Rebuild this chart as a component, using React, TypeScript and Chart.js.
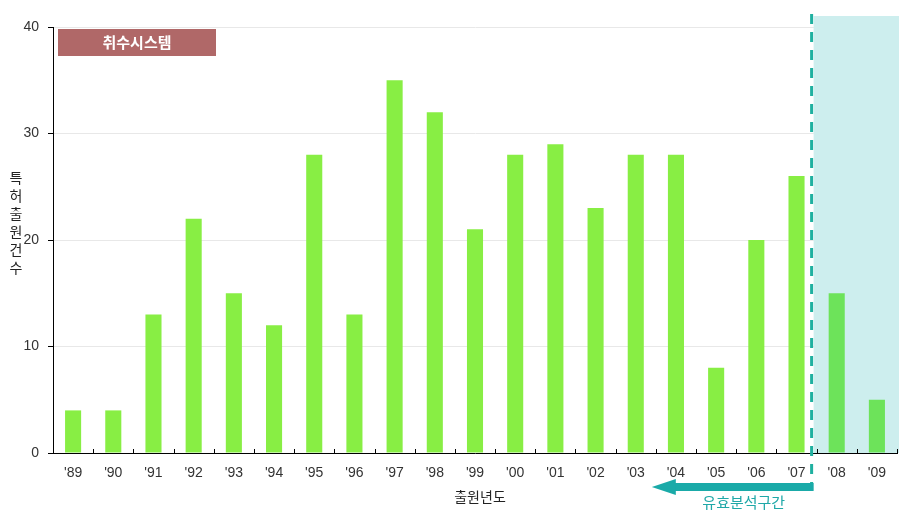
import { useEffect, useRef } from 'react';
import { Chart, registerables } from 'chart.js';
Chart.register(...registerables);

const categories = ["'89", "'90", "'91", "'92", "'93", "'94", "'95", "'96", "'97", "'98", "'99", "'00", "'01", "'02", "'03", "'04", "'05", "'06", "'07", "'08", "'09"];
const counts = [4, 4, 13, 22, 15, 12, 28, 13, 35, 32, 21, 28, 29, 23, 28, 28, 8, 20, 26, 15, 5];
const yTicks = [0, 10, 20, 30, 40];
const seriesTitle = '취수시스템';
const yTitle = '특허출원건수';
const xTitle = '출원년도';
const rangeLabel = '유효분석구간';
const firstShadedIndex = 19; // '08 onward: outside the valid analysis range
const arrowStartIndex = 15; // arrow reaches back to '04

const KFONT = '"Noto Sans CJK KR", "Noto Sans", sans-serif';
const NFONT = '"Liberation Sans", "DejaVu Sans", sans-serif';

const overlayPlugin = {
  id: 'overlay',
  beforeDatasetsDraw(chart: any) {
    const { ctx, chartArea, scales } = chart;
    const xs = scales.x;
    const step = xs.getPixelForValue(1) - xs.getPixelForValue(0);
    const bx = xs.getPixelForValue(firstShadedIndex) - step / 2 - 5;
    ctx.save();
    ctx.fillStyle = '#cdeeee';
    ctx.fillRect(bx + 2, chartArea.top - 11, chart.width - bx - 2, chartArea.bottom - chartArea.top + 11);
    ctx.restore();
  },
  afterDatasetsDraw(chart: any) {
    const { ctx, chartArea, scales } = chart;
    const xs = scales.x;
    const step = xs.getPixelForValue(1) - xs.getPixelForValue(0);
    const bx = xs.getPixelForValue(firstShadedIndex) - step / 2 - 5;
    ctx.save();
    // x ticks pointing up at category boundaries
    ctx.strokeStyle = '#000';
    ctx.lineWidth = 1;
    for (let i = 1; i <= categories.length; i++) {
      const x = Math.round(xs.getPixelForValue(i) - step / 2) + 0.5;
      ctx.beginPath();
      ctx.moveTo(x, chartArea.bottom);
      ctx.lineTo(x, chartArea.bottom - 4);
      ctx.stroke();
    }
    // dashed divider
    ctx.strokeStyle = '#1fb0a0';
    ctx.lineWidth = 3;
    ctx.setLineDash([10, 8]);
    ctx.beginPath();
    ctx.moveTo(bx, chartArea.top - 13);
    ctx.lineTo(bx, chartArea.bottom + 37);
    ctx.stroke();
    ctx.setLineDash([]);
    // arrow
    const tip = xs.getPixelForValue(arrowStartIndex) - step * 0.6;
    const ay = chartArea.bottom + 34;
    ctx.fillStyle = '#1aaaa8';
    ctx.fillRect(tip + 23, ay - 4, bx + 2 - (tip + 23), 8);
    ctx.beginPath();
    ctx.moveTo(tip, ay);
    ctx.lineTo(tip + 24, ay - 8);
    ctx.lineTo(tip + 24, ay + 8);
    ctx.closePath();
    ctx.fill();
    // range label
    ctx.fillStyle = '#1fa8a8';
    ctx.font = `15px ${KFONT}`;
    ctx.textAlign = 'center';
    ctx.textBaseline = 'middle';
    ctx.fillText(rangeLabel, (tip + bx) / 2 + 12, chartArea.bottom + 49);
    // x title
    ctx.fillStyle = '#222';
    ctx.font = `14px ${KFONT}`;
    ctx.fillText(xTitle, (chartArea.left + chartArea.right) / 2 + 5, chartArea.bottom + 44);
    // y title stacked
    ctx.font = `14px ${KFONT}`;
    const chars = Array.from(yTitle);
    chars.forEach((c, i) => {
      ctx.fillText(c, 16, 178 + i * 18);
    });
    // series title box
    ctx.fillStyle = '#b06868';
    ctx.fillRect(chartArea.left + 5, chartArea.top + 2, 158, 27);
    ctx.fillStyle = '#ffffff';
    ctx.font = `bold 15px ${KFONT}`;
    ctx.fillText(seriesTitle, chartArea.left + 5 + 79, chartArea.top + 15.5);
    ctx.restore();
  },
};

export default function App() {
  const ref = useRef<HTMLCanvasElement>(null);
  useEffect(() => {
    const chart = new Chart(ref.current!, {
      type: 'bar',
      data: {
        labels: categories,
        datasets: [
          {
            data: counts,
            backgroundColor: counts.map((_, i) => (i >= firstShadedIndex ? '#6de35a' : '#88ee44')),
            barPercentage: 0.4,
            categoryPercentage: 1,
          },
        ],
      },
      options: {
        animation: false,
        responsive: false,
        devicePixelRatio: 1,
        layout: { padding: { top: 27, right: 2, left: 0, bottom: 0 } },
        plugins: { legend: { display: false }, tooltip: { enabled: false }, title: { display: false } },
        scales: {
          x: {
            type: 'category',
            offset: true,
            grid: { display: false, drawTicks: false },
            border: { display: true, color: '#000', width: 1 },
            ticks: { padding: 12, color: '#333', font: { family: NFONT, size: 14 }, maxRotation: 0, autoSkip: false },
            afterFit: (a: any) => { a.height = 60; },
          },
          y: {
            min: 0,
            max: 40,
            afterBuildTicks: (a: any) => { a.ticks = yTicks.map((v) => ({ value: v })); },
            grid: { color: '#e8e8e8', tickColor: '#000', tickLength: 5 },
            border: { display: true, color: '#000', width: 1 },
            ticks: { padding: 9, color: '#333', font: { family: NFONT, size: 14 } },
            afterFit: (a: any) => { a.width = 53; },
          },
        },
      },
      plugins: [overlayPlugin],
    });
    return () => chart.destroy();
  }, []);
  return (
    <div style={{ position: 'absolute', left: 0, top: 0, width: 899, height: 513 }}>
      <canvas ref={ref} width={899} height={513} />
    </div>
  );
}
